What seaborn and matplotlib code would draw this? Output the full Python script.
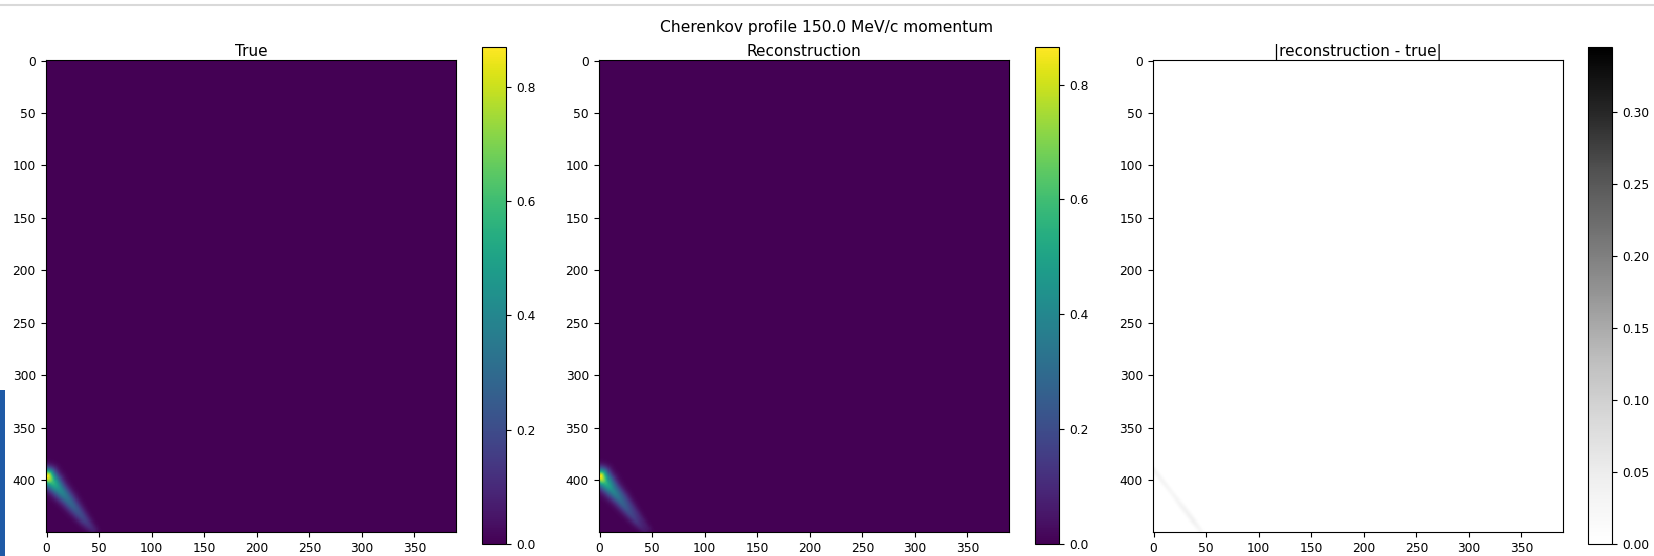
import numpy as np
import matplotlib
matplotlib.use("Agg")
import matplotlib.pyplot as plt
import seaborn as sns
from matplotlib.lines import Line2D
from matplotlib.patches import Rectangle
from matplotlib.ticker import MultipleLocator, FormatStrFormatter

# image grid (rows x cols)
n_rows = 450
n_cols = 390

streak_x = [1, 6, 12, 20, 28, 36, 44]
streak_y = [397, 402, 409, 418, 428, 438, 447]
streak_amp = [0.87, 0.58, 0.42, 0.31, 0.23, 0.16, 0.08]
streak_sigma = [5.5, 5.3, 5.0, 4.7, 4.3, 3.8, 3.2]

# residual |reconstruction - true| along the streak
resid_x = [0, 8, 18, 28, 38, 45]
resid_y = [390, 400, 413, 426, 439, 448]
resid_amp = [0.035, 0.03, 0.025, 0.035, 0.04, 0.025]
resid_sigma = [1.8, 1.8, 1.8, 2.0, 2.0, 1.8]
hot_pixel = (0, 396, 0.345)  # col, row, |diff|

x_ticks = [0, 50, 100, 150, 200, 250, 300, 350]
y_ticks = [0, 50, 100, 150, 200, 250, 300, 350, 400]

titles = ["True", "Reconstruction", "|reconstruction - true|"]
suptitle = "Cherenkov profile 150.0 MeV/c momentum"


def render(xs, ys, amps, sigmas):
    """Paint a soft streak following the polyline (xs, ys)."""
    cc, rr = np.meshgrid(np.arange(n_cols, dtype=float), np.arange(n_rows, dtype=float))
    img = np.zeros((n_rows, n_cols))
    for k in range(len(xs) - 1):
        x0, y0, x1, y1 = xs[k], ys[k], xs[k + 1], ys[k + 1]
        dx, dy = x1 - x0, y1 - y0
        t = ((cc - x0) * dx + (rr - y0) * dy) / (dx * dx + dy * dy)
        t = np.clip(t, 0, 1)
        d2 = (cc - (x0 + t * dx)) ** 2 + (rr - (y0 + t * dy)) ** 2
        a = amps[k] + t * (amps[k + 1] - amps[k])
        s = sigmas[k] + t * (sigmas[k + 1] - sigmas[k])
        img = np.maximum(img, a * np.exp(-d2 / (2 * s ** 2)))
    return img


true_img = render(streak_x, streak_y, streak_amp, streak_sigma)
resid = render(resid_x, resid_y, resid_amp, resid_sigma)
resid[hot_pixel[1], hot_pixel[0]] = hot_pixel[2]
recon_img = np.clip(true_img - resid, 0, None)
diff_img = np.abs(recon_img - true_img)

plt.rcParams["font.family"] = "DejaVu Sans"
plt.rcParams["font.size"] = 8.8

W, H = 1654, 556
fig = plt.figure(figsize=(W / 100, H / 100), dpi=100)

ax_lefts = [46, 599, 1153]
cb_lefts = [482, 1035, 1588]
ax_top, ax_bot = 60, 532
cb_top, cb_bot = 47, 544

panels = [(true_img, "viridis"), (recon_img, "viridis"), (diff_img, "Greys")]

for i, (img, cmap) in enumerate(panels):
    ax = fig.add_axes([ax_lefts[i] / W, (H - ax_bot) / H, 410 / W, (ax_bot - ax_top) / H])
    cax = fig.add_axes([cb_lefts[i] / W, (H - cb_bot) / H, 24 / W, (cb_bot - cb_top) / H])
    sns.heatmap(img, ax=ax, cmap=cmap, cbar_ax=cax, xticklabels=False,
                yticklabels=False, rasterized=True, vmin=0)
    ax.set_xticks([v + 0.5 for v in x_ticks])
    ax.set_xticklabels([str(v) for v in x_ticks], rotation=0)
    ax.set_yticks([v + 0.5 for v in y_ticks])
    ax.set_yticklabels([str(v) for v in y_ticks], rotation=0)
    ax.tick_params(length=3.5, width=0.8, labelsize=8.8, pad=3.8)
    for sp in ax.spines.values():
        sp.set_visible(True)
        sp.set_linewidth(0.8)
    ax.set_title(titles[i], fontsize=11, pad=3)

    cb = ax.collections[0].colorbar
    cb.outline.set_linewidth(0.8)
    cb.outline.set_edgecolor("black")
    if i == 2:
        cb.locator = MultipleLocator(0.05)
        cb.formatter = FormatStrFormatter("%.2f")
    else:
        cb.locator = MultipleLocator(0.2)
        cb.formatter = FormatStrFormatter("%.1f")
    cb.update_ticks()
    cax.tick_params(length=3.5, width=0.8, labelsize=8.8, pad=3.8)

fig.text(0.5, 1 - 32 / H, suptitle, fontsize=11.2, ha="center", va="baseline")

# screenshot edges
fig.add_artist(Line2D([0, 1], [1 - 5 / H, 1 - 5 / H], color="#d9d9d9", lw=1.5))
fig.add_artist(Rectangle((0, 0), 5 / W, 166 / H, color="#1f5aa6", lw=0))

fig.savefig("out.png", dpi=100)
